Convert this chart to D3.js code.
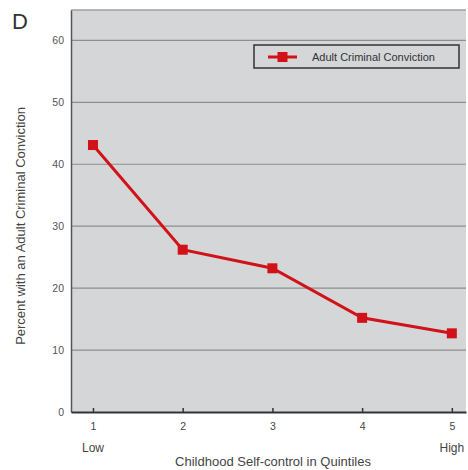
<!DOCTYPE html>
<html><head><meta charset="utf-8">
<script src="https://cdn.jsdelivr.net/npm/d3@7"></script>
<style>body{margin:0;background:#fff;}svg{display:block;font-family:"Liberation Sans",Arial,sans-serif;}</style>
</head><body>
<svg id="c" width="468" height="470"></svg>
<script>
const quintiles = [1, 2, 3, 4, 5];
const conviction = [43.1, 26.2, 23.2, 15.2, 12.7];
const yTicks = [0, 10, 20, 30, 40, 50, 60];
const endLabels = ["Low", "High"];
const seriesName = "Adult Criminal Conviction";

const svg = d3.select("#c");
const L = 71, R = 466, T = 10, B = 412;
const x = d3.scaleLinear().domain([0.755, 5.158]).range([L, R]);
const y = d3.scaleLinear().domain([0, 64.9]).range([B, T]);

svg.append("rect").attr("x", L).attr("y", T).attr("width", R - L).attr("height", B - T).attr("fill", "#d5d6d8");
svg.append("line").attr("x1", L).attr("x2", R).attr("y1", T).attr("y2", T).attr("stroke", "#a0a0a0").attr("stroke-width", 1.5);

// gridlines
svg.append("g").selectAll("line").data(yTicks.filter(d => d > 0)).join("line")
  .attr("x1", L).attr("x2", R).attr("y1", d => y(d)).attr("y2", d => y(d))
  .attr("stroke", "#8e8e8e").attr("stroke-width", 1.2);

// y axis
const ya = svg.append("g").attr("transform", `translate(${L},0)`)
  .call(d3.axisLeft(y).tickValues(yTicks).tickSize(0).tickPadding(7));
ya.select(".domain").attr("stroke", "#555").attr("stroke-width", 1.5);
ya.selectAll("text").attr("font-size", 10.5).attr("fill", "#555").attr("font-family", "Liberation Sans, Arial, sans-serif");

// x axis
const xa = svg.append("g").attr("transform", `translate(0,${B})`)
  .call(d3.axisBottom(x).tickValues(quintiles).tickSize(-4).tickSizeOuter(0).tickPadding(11).tickFormat(d3.format("d")));
xa.select(".domain").attr("stroke", "#333").attr("stroke-width", 2);
xa.selectAll(".tick line").attr("stroke", "#333").attr("stroke-width", 1.5);
xa.selectAll("text").attr("font-size", 10.5).attr("fill", "#444").attr("font-family", "Liberation Sans, Arial, sans-serif");

// Low / High
svg.append("g").selectAll("text").data(endLabels).join("text")
  .attr("x", (d, i) => x(i === 0 ? quintiles[0] : quintiles[quintiles.length - 1]))
  .attr("y", 452).attr("text-anchor", "middle").attr("font-size", 12).attr("fill", "#444").text(d => d);

// axis titles
svg.append("text").attr("x", 273).attr("y", 466).attr("text-anchor", "middle").attr("font-size", 13).attr("fill", "#444")
  .text("Childhood Self-control in Quintiles");
svg.append("text").attr("transform", `translate(25,226) rotate(-90)`).attr("text-anchor", "middle")
  .attr("font-size", 13).attr("fill", "#444").text("Percent with an Adult Criminal Conviction");

svg.append("text").attr("x", 12).attr("y", 29).attr("font-size", 22).attr("fill", "#333").text("D");

// line
const line = d3.line().x((d, i) => x(quintiles[i])).y(d => y(d));
svg.append("path").datum(conviction).attr("d", line).attr("fill", "none").attr("stroke", "#d11218").attr("stroke-width", 3);
svg.append("g").selectAll("rect").data(conviction).join("rect")
  .attr("x", (d, i) => x(quintiles[i]) - 5).attr("y", d => y(d) - 5).attr("width", 10).attr("height", 10).attr("fill", "#d11218");

// legend
const lg = svg.append("g");
lg.append("rect").attr("x", 254).attr("y", 45).attr("width", 205).attr("height", 23).attr("fill", "none").attr("stroke", "#333").attr("stroke-width", 1.5);
lg.append("line").attr("x1", 268).attr("x2", 297).attr("y1", 57).attr("y2", 57).attr("stroke", "#d11218").attr("stroke-width", 3);
lg.append("rect").attr("x", 277.5).attr("y", 52).attr("width", 10).attr("height", 10).attr("fill", "#d11218");
lg.append("text").attr("x", 312).attr("y", 61).attr("font-size", 11).attr("fill", "#333").text(seriesName);
</script>
</body></html>
